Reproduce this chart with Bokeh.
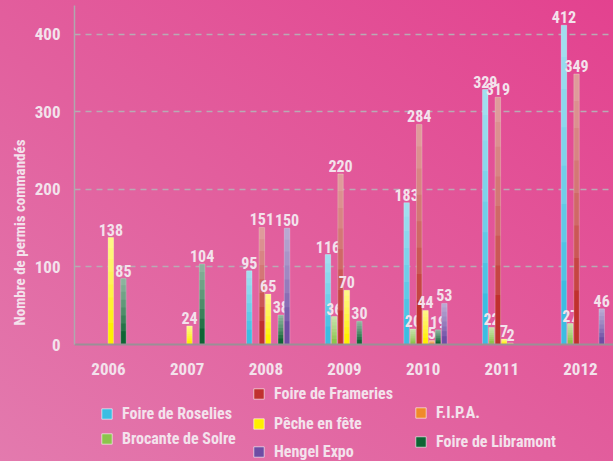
from bokeh.plotting import figure
from bokeh.models import ColumnDataSource, Legend, LegendItem, Title, Range1d
from bokeh.layouts import column
from bokeh.transform import dodge
from bokeh.core.properties import value
from bokeh.embed import file_html
from bokeh.resources import INLINE

# ---- data ----
years = [2006, 2007, 2008, 2009, 2010, 2011, 2012]
series_names = ["Foire de Roselies", "Brocante de Solre", "Foire de Frameries",
                "Pêche en fête", "F.I.P.A.", "Foire de Libramont", "Hengel Expo"]
roselies = [None, None, 95, 116, 183, 329, 412]
brocante = [None, None, None, 36, 20, 22, 27]
frameries = [None, None, 151, 220, 284, 319, 349]
peche = [138, 24, 65, 70, 44, 7, None]
fipa = [None, None, None, None, 5, 2, None]
libramont = [85, 104, 38, 30, 19, None, None]
hengel = [None, None, 150, None, 53, None, 46]
y_ticks = [0, 100, 200, 300, 400]

series_values = [roselies, brocante, frameries, peche, fipa, libramont, hengel]
colors = ["#3cbde2", "#8cc44c", "#c0302e", "#fff000", "#f08a2a", "#0e6434", "#6e4ca4"]

FONT = "Roboto Condensed, DejaVu Sans Condensed, Roboto"
TXT = "#f3e2ec"

p = figure(width=613, height=378, output_backend="svg", toolbar_location=None,
           x_range=Range1d(2005.568, 2012.42), y_range=Range1d(0, 437.4),
           min_border_left=74, min_border_right=0, min_border_top=5,
           min_border_bottom=34)
p.border_fill_alpha = 0
p.background_fill_alpha = 0
p.outline_line_color = None

p.xgrid.grid_line_color = None
p.ygrid.grid_line_color = "#b9aab4"
p.ygrid.grid_line_dash = "6 5"
p.ygrid.grid_line_width = 1.5

p.yaxis.ticker = y_ticks
p.xaxis.ticker = years
for ax in (p.xaxis, p.yaxis):
    ax.major_tick_line_color = None
    ax.minor_tick_line_color = None
    ax.major_label_text_font = FONT
    ax.major_label_text_font_style = "bold"
    ax.major_label_text_color = TXT
    ax.major_label_text_font_size = "17px"
p.yaxis.axis_line_color = "#b0a8ae"
p.yaxis.axis_line_width = 1.5
p.yaxis.major_label_standoff = 8
p.xaxis.axis_line_color = "#9a9096"
p.xaxis.axis_line_width = 2
p.xaxis.major_label_standoff = 12

slot = 0.08
shift = 0.03
bw = 0.07
bands = [0.2, 0.32, 0.44, 0.56, 0.68, 0.8, 0.9]
for i, (name, vals, col) in enumerate(zip(series_names, series_values, colors)):
    v = [float("nan") if x is None else x for x in vals]
    lbl = ["" if x is None else str(x) for x in vals]
    data = dict(year=years, val=v, lbl=lbl)
    for k, frac in enumerate(bands):
        data["b%d" % k] = [x * frac for x in v]
    src = ColumnDataSource(data)
    off = (i - 3) * slot + shift
    xs = dodge("year", off, range=p.x_range)
    p.vbar(x=xs, top="val", width=bw, source=src, fill_color=col,
           line_color="#ffffff", line_alpha=0.45, line_width=0.6)
    for k in range(len(bands)):
        p.vbar(x=xs, top="val", bottom="b%d" % k, width=bw, source=src,
               fill_color="#ffffff", fill_alpha=0.1, line_color=None)
    p.text(x=xs, y="val", text="lbl", source=src,
           text_align="center", text_baseline="bottom", y_offset=-2,
           text_font=value(FONT), text_font_style="bold", text_font_size="16px",
           text_color=TXT)

p.add_layout(Title(text="Nombre de permis commandés", align="left", offset=19,
                   text_font=FONT, text_font_style="bold", text_font_size="15px",
                   text_color=TXT, standoff=6), "left")

# ---- legend panel ----
p2 = figure(width=613, height=83, output_backend="svg", toolbar_location=None,
            x_axis_location=None, y_axis_location=None,
            x_range=Range1d(0, 1), y_range=Range1d(0, 1),
            min_border_left=74, min_border_right=0, min_border_top=0, min_border_bottom=0)
p2.border_fill_alpha = 0
p2.background_fill_alpha = 0
p2.outline_line_color = None
p2.grid.grid_line_color = None

positions = [(26, 38), (26, 13), (178, 58), (178, 28), (340, 39), (340, 10), (178, 0)]
for name, col, loc in zip(series_names, colors, positions):
    r = p2.vbar(x=[float("nan")], top=[float("nan")], width=0.1, fill_color=col,
                line_color="#ffffff", line_alpha=0.6)
    lg = Legend(items=[LegendItem(label=name, renderers=[r])], location=loc,
                background_fill_alpha=0, border_line_alpha=0, padding=0, margin=0,
                glyph_width=13, glyph_height=13, label_height=16, label_standoff=9,
                label_text_font=FONT, label_text_font_style="bold",
                label_text_font_size="16px", label_text_color=TXT)
    p2.add_layout(lg, "center")

layout = column(p, p2, spacing=0)
layout.styles = {"background": "linear-gradient(to top right, #e37aae 0%, #e2609e 45%, #e3428f 100%)"}

open("out.html", "w").write(file_html(layout, INLINE))
